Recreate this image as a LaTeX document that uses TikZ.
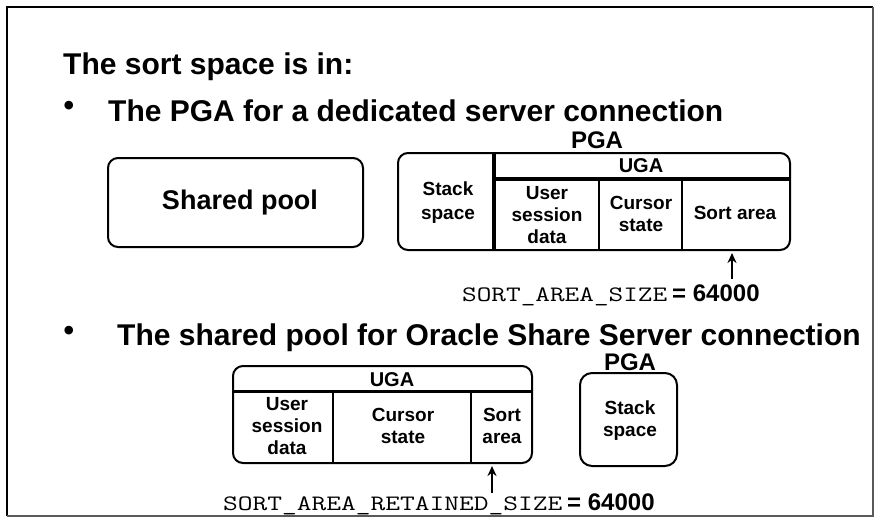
\documentclass[tikz,border=0pt]{standalone}
\usepackage{fontspec}
\setmainfont{Liberation Sans}
\usetikzlibrary{arrows.meta}
\newcommand{\monotxt}[2]{\resizebox{#1}{\height}{\fontsize{22}{26}\ttfamily\mdseries #2}}
\begin{document}
\begin{tikzpicture}[x=1pt,y=-1pt,
  hd/.style={font=\bfseries\fontsize{30}{36}\selectfont, inner sep=0pt, anchor=base west},
  bul/.style={font=\bfseries\fontsize{30}{36}\selectfont, inner sep=0pt},
  bx/.style={draw, line width=2pt, rounded corners=10pt, inner sep=0pt},
  cell/.style={font=\bfseries\fontsize{19}{22}\selectfont, align=center, inner sep=0pt},
  big/.style={font=\bfseries\fontsize{27}{32}\selectfont, inner sep=0pt},
  ttl/.style={font=\bfseries\fontsize{24}{28}\selectfont, inner sep=0pt},
  ugat/.style={font=\bfseries\fontsize{20}{24}\selectfont, inner sep=0pt},
  lbl/.style={font=\bfseries\fontsize{24}{28}\selectfont, inner sep=0pt, anchor=base west},
  arr/.style={line width=2.5pt, -{Stealth[length=10pt,width=9pt]}},
  dv/.style={line width=2.5pt},
  thk/.style={line width=3.5pt}]
\useasboundingbox (0,0) rectangle (890,525);
\draw[line width=1.5pt] (873,7) -- (7,7) -- (7,516);
\draw[line width=2.5pt, color=black!65] (7,516) -- (873,516) -- (873,7);

% headings
\node[hd] (title) at (63,74) {The sort space is in:};
\node[bul] (b1) at (69,108) {•};
\node[hd] (l1) at (108,121) {The PGA for a dedicated server connection};
\node[bul] (b2) at (69,333) {•};
\node[hd] (l2) at (117,345) {The shared pool for Oracle Share Server connection};

% shared pool
\node[bx, minimum width=255pt, minimum height=89pt] (sp) at (235.5,202.5) {};
\node[big] (spt) at (240,203) {Shared pool};

% PGA dedicated
\node[bx, minimum width=392pt, minimum height=97pt] (pga1) at (594,201.5) {};
\draw[thk] (494,153) -- (494,250);
\draw[thk] (494,179) -- (790,179);
\draw[dv] (599,179) -- (599,250);
\draw[dv] (682,179) -- (682,250);
\node[ttl] (pga1t) at (597,140) {PGA};
\node[ugat] (uga1t) at (641,166) {UGA};
\node[cell, font=\bfseries\fontsize{19}{24}\selectfont] (ss1) at (448,203) {Stack\\space};
\node[cell] (us1) at (547,215) {User\\session\\data};
\node[cell] (cs1) at (641,214) {Cursor\\state};
\node[cell] (sa1) at (735,213) {Sort area};
\coordinate (a1s) at (732,279);
\coordinate (a1e) at (732,253);
\draw[arr] (a1s) -- (a1e);
\node[lbl] (lab1) at (462,301) {\monotxt{205pt}{SORT\_AREA\_SIZE}\hspace{5pt}= 64000};

% UGA shared server
\node[bx, minimum width=299pt, minimum height=97pt] (uga2) at (382.5,414.5) {};
\draw[dv, line width=3pt] (233,391) -- (532,391);
\draw[dv] (333,391) -- (333,463);
\draw[dv] (471,391) -- (471,463);
\node[ugat] (uga2t) at (392,380) {UGA};
\node[cell] (us2) at (287,426) {User\\session\\data};
\node[cell] (cs2) at (403,426) {Cursor\\state};
\node[cell] (sa2) at (502,426) {Sort\\area};
\coordinate (a2s) at (492,493);
\coordinate (a2e) at (492,466);
\draw[arr] (a2s) -- (a2e);
\node[lbl] (lab2) at (223,510) {\monotxt{339pt}{SORT\_AREA\_RETAINED\_SIZE}\hspace{5pt}= 64000};

% PGA shared server
\node[bx, rounded corners=12pt, minimum width=97pt, minimum height=93pt] (pga2) at (628.5,419.5) {};
\node[ttl] (pga2t) at (630,362) {PGA};
\node[cell] (ss2) at (630,421) {Stack\\space};
\end{tikzpicture}
\end{document}
